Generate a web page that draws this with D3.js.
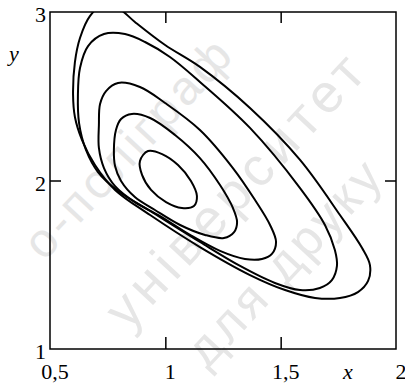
<!DOCTYPE html>
<html>
<head>
<meta charset="utf-8">
<script src="https://cdn.jsdelivr.net/npm/d3@7"></script>
<style>
  html, body { margin: 0; padding: 0; background: #fff; }
  svg { display: block; }
</style>
</head>
<body>
<svg id="chart" width="405" height="386"></svg>
<script>
// Closed phase trajectories in the (x, y) plane, innermost to outermost
const curve1 = [
  [0.925, 2.175], [0.986, 2.157], [1.055, 2.092], [1.111, 1.997], [1.137, 1.908],
  [1.124, 1.849], [1.072, 1.837], [1.003, 1.872], [0.938, 1.944], [0.899, 2.033],
  [0.890, 2.116]
];
const curve2 = [
  [0.777, 2.181], [0.786, 2.300], [0.808, 2.365], [0.855, 2.395], [0.934, 2.371],
  [1.042, 2.270], [1.150, 2.133], [1.237, 1.973], [1.293, 1.837], [1.311, 1.754],
  [1.298, 1.694], [1.254, 1.659], [1.172, 1.677], [1.064, 1.736], [0.955, 1.825],
  [0.868, 1.902], [0.808, 1.997], [0.782, 2.086]
];
const curve3 = [
  [0.712, 2.329], [0.717, 2.454], [0.743, 2.531], [0.795, 2.579], [0.890, 2.555],
  [0.999, 2.460], [1.150, 2.300], [1.293, 2.074], [1.389, 1.884], [1.454, 1.736],
  [1.480, 1.635], [1.462, 1.564], [1.419, 1.534], [1.345, 1.534], [1.237, 1.582],
  [1.107, 1.677], [0.977, 1.789], [0.868, 1.872], [0.782, 1.967], [0.734, 2.074],
  [0.712, 2.193]
];
const curve4 = [
  [0.621, 2.507], [0.630, 2.668], [0.665, 2.798], [0.734, 2.869], [0.825, 2.869],
  [0.912, 2.822], [1.020, 2.733], [1.150, 2.585], [1.367, 2.312], [1.584, 1.955],
  [1.692, 1.736], [1.735, 1.587], [1.744, 1.493], [1.722, 1.409], [1.670, 1.362],
  [1.584, 1.350], [1.475, 1.392], [1.324, 1.493], [1.150, 1.635], [0.934, 1.819],
  [0.795, 1.938], [0.708, 2.050], [0.656, 2.181], [0.626, 2.341]
];
const curve5 = [
  [0.600, 2.507], [0.608, 2.703], [0.630, 2.846], [0.673, 2.976], [0.734, 3.047],
  [0.795, 3.024], [0.868, 2.941], [0.999, 2.804], [1.150, 2.674], [1.367, 2.430],
  [1.584, 2.122], [1.757, 1.795], [1.853, 1.599], [1.887, 1.498], [1.879, 1.404],
  [1.835, 1.338], [1.757, 1.303], [1.649, 1.303], [1.519, 1.350], [1.367, 1.439],
  [1.150, 1.605], [0.934, 1.795], [0.782, 1.944], [0.695, 2.092], [0.639, 2.240],
  [0.608, 2.377]
];
const trajectories = [curve1, curve2, curve3, curve4, curve5];

const xDomain = [0.5, 2];
const yDomain = [1, 3];
const xTickValues = [1, 1.5];
const yTickValues = [2];
const xLabelValues = [0.5, 1, 1.5, 2];
const yLabelValues = [1, 2, 3];
const watermarkLines = ["о-поліграф", "університет", "для друку"];

const svg = d3.select("#chart");
const plotLeft = 50, plotRight = 396, plotTop = 12, plotBottom = 349;

const x = d3.scaleLinear().domain(xDomain).range([plotLeft, plotRight]);
const y = d3.scaleLinear().domain(yDomain).range([plotBottom, plotTop]);
const fmt = v => String(v).replace(".", ",");

// faint diagonal watermark behind everything
const wm = svg.append("g")
  .attr("fill", "#e6e6e6")
  .attr("font-family", "'Liberation Sans', Arial, sans-serif");
const wmStyle = [
  { at: [44, 262], size: 48, spacing: 4 },
  { at: [128, 332], size: 54, spacing: 6 },
  { at: [207, 370], size: 50, spacing: 4 }
];
watermarkLines.forEach((t, i) => {
  const s = wmStyle[i];
  wm.append("text")
    .attr("transform", `translate(${s.at[0]},${s.at[1]}) rotate(-47)`)
    .attr("font-size", s.size)
    .attr("letter-spacing", s.spacing)
    .text(t);
});

svg.append("defs").append("clipPath").attr("id", "plot-clip")
  .append("rect")
  .attr("x", plotLeft).attr("y", plotTop)
  .attr("width", plotRight - plotLeft).attr("height", plotBottom - plotTop);

// trajectories
const line = d3.line()
  .x(d => x(d[0]))
  .y(d => y(d[1]))
  .curve(d3.curveCatmullRomClosed.alpha(0.5));

svg.append("g")
  .attr("clip-path", "url(#plot-clip)")
  .selectAll("path")
  .data(trajectories)
  .join("path")
  .attr("d", line)
  .attr("fill", "none")
  .attr("stroke", "#000")
  .attr("stroke-width", 2);

// inward ticks on all four sides
function ticksOnly(g) {
  g.select(".domain").remove();
  g.selectAll("text").remove();
  g.selectAll("line").attr("stroke", "#000").attr("stroke-width", 1.5);
}
svg.append("g").attr("transform", `translate(0,${plotBottom})`)
  .call(d3.axisBottom(x).tickValues(xTickValues).tickSizeInner(-12).tickSizeOuter(0))
  .call(ticksOnly);
svg.append("g").attr("transform", `translate(0,${plotTop})`)
  .call(d3.axisTop(x).tickValues(xTickValues).tickSizeInner(-11).tickSizeOuter(0))
  .call(ticksOnly);
svg.append("g").attr("transform", `translate(${plotLeft},0)`)
  .call(d3.axisLeft(y).tickValues(yTickValues).tickSizeInner(-11).tickSizeOuter(0))
  .call(ticksOnly);
svg.append("g").attr("transform", `translate(${plotRight},0)`)
  .call(d3.axisRight(y).tickValues(yTickValues).tickSizeInner(-11).tickSizeOuter(0))
  .call(ticksOnly);

// frame
svg.append("rect")
  .attr("x", plotLeft).attr("y", plotTop)
  .attr("width", plotRight - plotLeft).attr("height", plotBottom - plotTop)
  .attr("fill", "none")
  .attr("stroke", "#000")
  .attr("stroke-width", 1.5);

// tick labels
const labels = svg.append("g")
  .attr("font-family", "'Liberation Serif', 'Times New Roman', serif")
  .attr("font-size", 22)
  .attr("fill", "#000");

labels.selectAll("text.xl")
  .data(xLabelValues)
  .join("text")
  .attr("class", "xl")
  .attr("x", d => x(d) + 5)
  .attr("y", 379)
  .attr("text-anchor", "middle")
  .text(fmt);

labels.selectAll("text.yl")
  .data(yLabelValues)
  .join("text")
  .attr("class", "yl")
  .attr("x", 46)
  .attr("y", d => y(d) + 10)
  .attr("text-anchor", "end")
  .text(fmt);

// axis names
labels.append("text")
  .attr("x", 343).attr("y", 379)
  .attr("font-style", "italic")
  .text("x");
labels.append("text")
  .attr("x", 9).attr("y", 61)
  .attr("font-style", "italic")
  .text("y");
</script>
</body>
</html>
